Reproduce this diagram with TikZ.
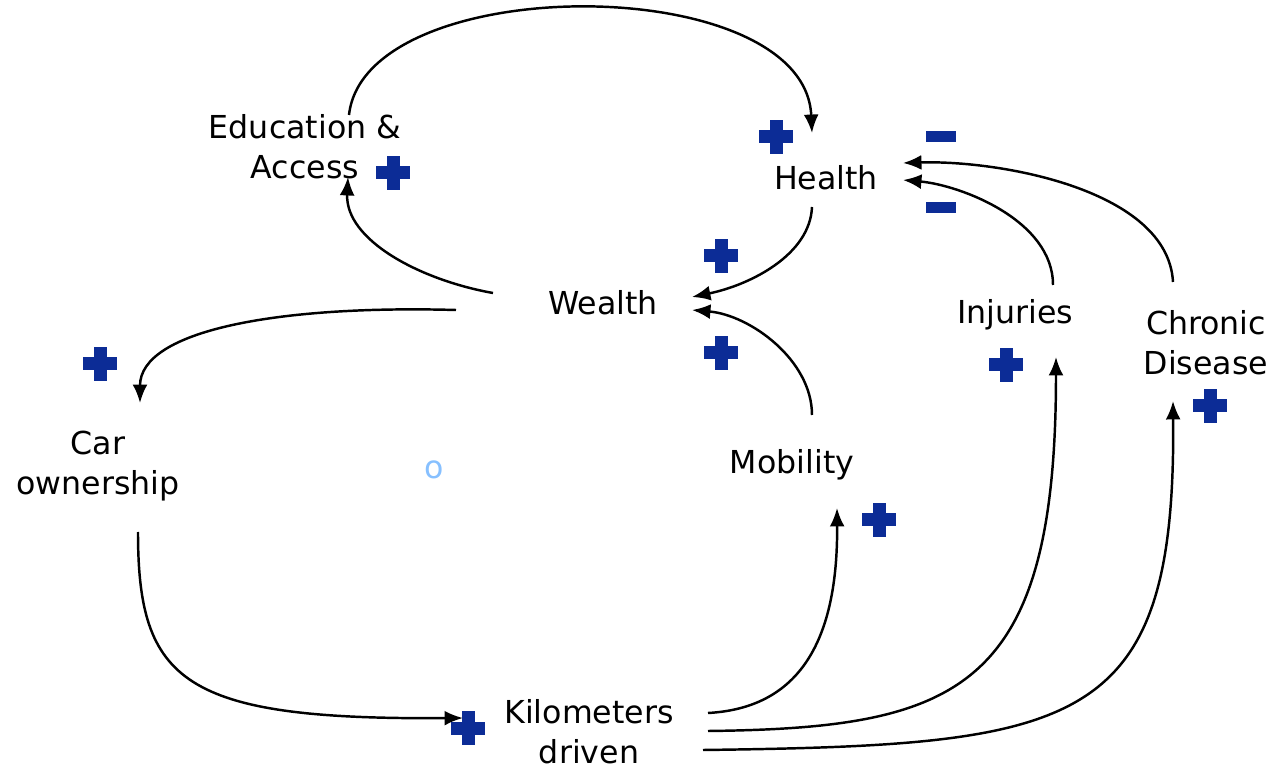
\documentclass[tikz,border=0pt]{standalone}
\usepackage{fontspec}
\setmainfont{DejaVu Sans}
\usetikzlibrary{arrows.meta}
\definecolor{signblue}{RGB}{12,44,150}
\definecolor{paleblue}{RGB}{135,192,255}
\tikzset{
    factor/.style={
           inner sep=0pt,
           align=center,
           font=\fontsize{18pt}{22.7pt}\selectfont,
           },
    link/.style={
           -{Latex[length=10.5pt,width=8.5pt]},
           line width=1.4pt,
           },
    plussign/.pic={
           \fill[signblue] (-17,-6.5) rectangle (17,6.5);
           \fill[signblue] (-6.5,-17) rectangle (6.5,17);
           },
    minussign/.pic={
           \fill[signblue] (-15,-5.5) rectangle (15,5.5);
           },
}
\begin{document}
\begin{tikzpicture}[x=0.02cm, y=-0.02cm]
    \useasboundingbox (0,0) rectangle (1276,770);

    % the factors of the loop
    \node[factor] (educ) at (305,147) {Education \&\\Access};
    \node[factor] (health) at (826,178) {Health};
    \node[factor] (wealth) at (603,303) {Wealth};
    \node[factor] (car) at (98,466) {Car\\ownership};
    \node[factor] (mobility) at (792,465) {Mobility};
    \node[factor] (injuries) at (1015,315) {Injuries};
    \node[factor] (chronic) at (1206,343) {Chronic\\Disease};
    \node[factor] (km) at (589,732) {Kilometers\\driven};
    \node[factor, text=paleblue] (stray) at (434,470) {o};

    % draw the links (start and end taken from the centers)
    \draw[link] ([shift={(44,-32)}]educ.center)
        .. controls +(16,-145) and +(-7,-163) .. ([shift={(-14,-45)}]health.center);
    \draw[link] ([shift={(-110,-10)}]wealth.center)
        .. controls +(-73,-13) and +(-3,63) .. ([shift={(43,30)}]educ.center);
    \draw[link] ([shift={(-14,29)}]health.center)
        .. controls +(-2,48) and +(58,-12) .. ([shift={(89,-6)}]wealth.center);
    \draw[link] ([shift={(20,-50)}]mobility.center)
        .. controls +(0,-55) and +(58,5) .. ([shift={(89,7)}]wealth.center);
    \draw[link] ([shift={(-147,7)}]wealth.center)
        .. controls +(-176,-5) and +(0,-73) .. ([shift={(42,-63)}]car.center);
    \draw[link] ([shift={(40,66)}]car.center)
        .. controls +(0,150) and +(-280,2) .. ([shift={(-126,-14)}]km.center);
    \draw[link] ([shift={(119,-19)}]km.center)
        .. controls +(92,-5) and +(1,132) .. ([shift={(45,43)}]mobility.center);
    \draw[link] ([shift={(119,-1)}]km.center)
        .. controls +(252,-3) and +(0,333) .. ([shift={(41,42)}]injuries.center);
    \draw[link] ([shift={(114,18)}]km.center)
        .. controls +(377,-5) and +(3,329) .. ([shift={(-33,58)}]chronic.center);
    \draw[link] ([shift={(38,-30)}]injuries.center)
        .. controls +(0,-65) and +(57,5) .. ([shift={(77,2)}]health.center);
    \draw[link] ([shift={(-33,-61)}]chronic.center)
        .. controls +(-5,-92) and +(97,-3) .. ([shift={(77,-15)}]health.center);

    % polarity signs
    \pic at (393,173) {plussign};
    \pic at (776,137) {plussign};
    \pic at (721,256) {plussign};
    \pic at (721,353) {plussign};
    \pic at (100,364) {plussign};
    \pic at (1006,365) {plussign};
    \pic at (1210,406) {plussign};
    \pic at (879,520) {plussign};
    \pic at (468,728) {plussign};
    \pic at (941,137) {minussign};
    \pic at (941,208) {minussign};
\end{tikzpicture}
\end{document}
